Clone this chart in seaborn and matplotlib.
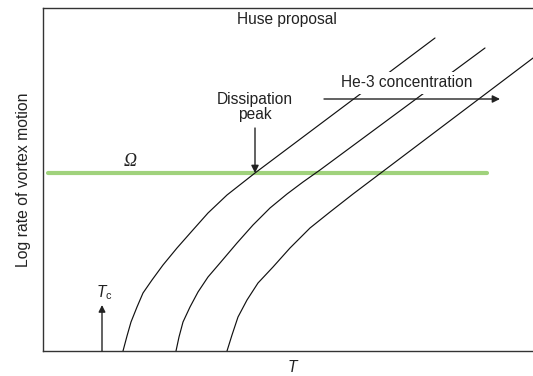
import numpy as np
import pandas as pd
import matplotlib
matplotlib.use("Agg")
import matplotlib.pyplot as plt
import seaborn as sns

# ---- data (arbitrary units) ----
curve1_T = [80, 84, 88, 94, 100, 109, 120, 134, 149, 165, 184, 198, 212, 392]
curve1_R = [0, 15, 29, 44, 58, 71, 86, 103, 120, 138, 156, 167, 178, 313]
curve2_T = [133, 136, 140, 147, 155, 165, 177, 194, 210, 227, 244, 260, 277, 442]
curve2_R = [0, 14, 29, 44, 59, 74, 88, 108, 126, 143, 157, 169, 181, 303]
curve3_T = [184, 189, 195, 204, 215, 230, 247, 267, 287, 310, 502]
curve3_R = [0, 16, 34, 51, 68, 84, 103, 123, 139, 157, 302]
omega_T = [5, 444]
omega_R = [178, 178]
tc_T = 59
peak_T = 212
peak_R = 178

sns.set_theme(style="white")
plt.rcParams['font.family'] = ['Liberation Sans', 'DejaVu Sans']
plt.rcParams['mathtext.fontset'] = 'custom'
plt.rcParams['mathtext.it'] = 'Liberation Sans:italic'
plt.rcParams['mathtext.rm'] = 'Liberation Sans'

W, H = 533, 376
fig = plt.figure(figsize=(W / 100, H / 100), dpi=100)
ax = fig.add_axes([43 / W, (H - 351) / H, (W - 43) / W, 343 / H])

rows = []
for name, T, R in [("c1", curve1_T, curve1_R), ("c2", curve2_T, curve2_R), ("c3", curve3_T, curve3_R)]:
    for t, r in zip(T, R):
        rows.append({"curve": name, "T": t, "R": r})
df = pd.DataFrame(rows)

sns.lineplot(data=df, x="T", y="R", units="curve", estimator=None, sort=False,
             color="#111111", linewidth=0.85, ax=ax, zorder=3)
sns.lineplot(x=omega_T, y=omega_R, color="#a0d27c", linewidth=3.0, ax=ax, zorder=2)

ax.set_xlim(0, 490)
ax.set_ylim(0, 343)
ax.set_xticks([])
ax.set_yticks([])
ax.set_xlabel("")
ax.set_ylabel("")
for s in ["left", "bottom", "top"]:
    ax.spines[s].set_color("#333333")
    ax.spines[s].set_linewidth(1.0)
ax.spines["right"].set_visible(False)

fs = 11.2
tc = "#222222"
ax.text(244, 331, "Huse proposal", ha="center", va="center", fontsize=fs, color=tc)
ax.text(364, 268, "He-3 concentration", ha="center", va="center", fontsize=fs, color=tc,
        zorder=5, bbox=dict(facecolor="white", edgecolor="none", pad=2.5))
ax.annotate("", xy=(457, 252), xytext=(281, 252),
            arrowprops=dict(arrowstyle="-|>", color=tc, lw=1.0, mutation_scale=11,
                            shrinkA=0, shrinkB=0), zorder=6)
ax.text(peak_T, 244, "Dissipation\npeak", ha="center", va="center", fontsize=fs,
        color=tc, linespacing=1.05)
ax.annotate("", xy=(peak_T, peak_R), xytext=(peak_T, 223),
            arrowprops=dict(arrowstyle="-|>", color=tc, lw=1.0, mutation_scale=11,
                            shrinkA=0, shrinkB=0), zorder=6)
ax.text(87, 189, "Ω", ha="center", va="center", fontsize=13, fontstyle="italic",
        family=["Liberation Serif", "DejaVu Serif"], color=tc)
ax.annotate("", xy=(tc_T, 46), xytext=(tc_T, 0),
            arrowprops=dict(arrowstyle="-|>", color=tc, lw=1.0, mutation_scale=10,
                            shrinkA=0, shrinkB=0), zorder=6)
ax.text(tc_T + 2, 58, r"$T_{\mathrm{c}}$", ha="center", va="center", fontsize=fs, color=tc)
ax.text(249, -17, "T", ha="center", va="center", fontsize=fs, fontstyle="italic",
        color=tc, clip_on=False)
fig.text(24 / W, 1 - 180 / H, "Log rate of vortex motion", rotation=90, ha="center", va="center",
         fontsize=11.3, color=tc)

fig.savefig("out.png", dpi=100, facecolor="white")
